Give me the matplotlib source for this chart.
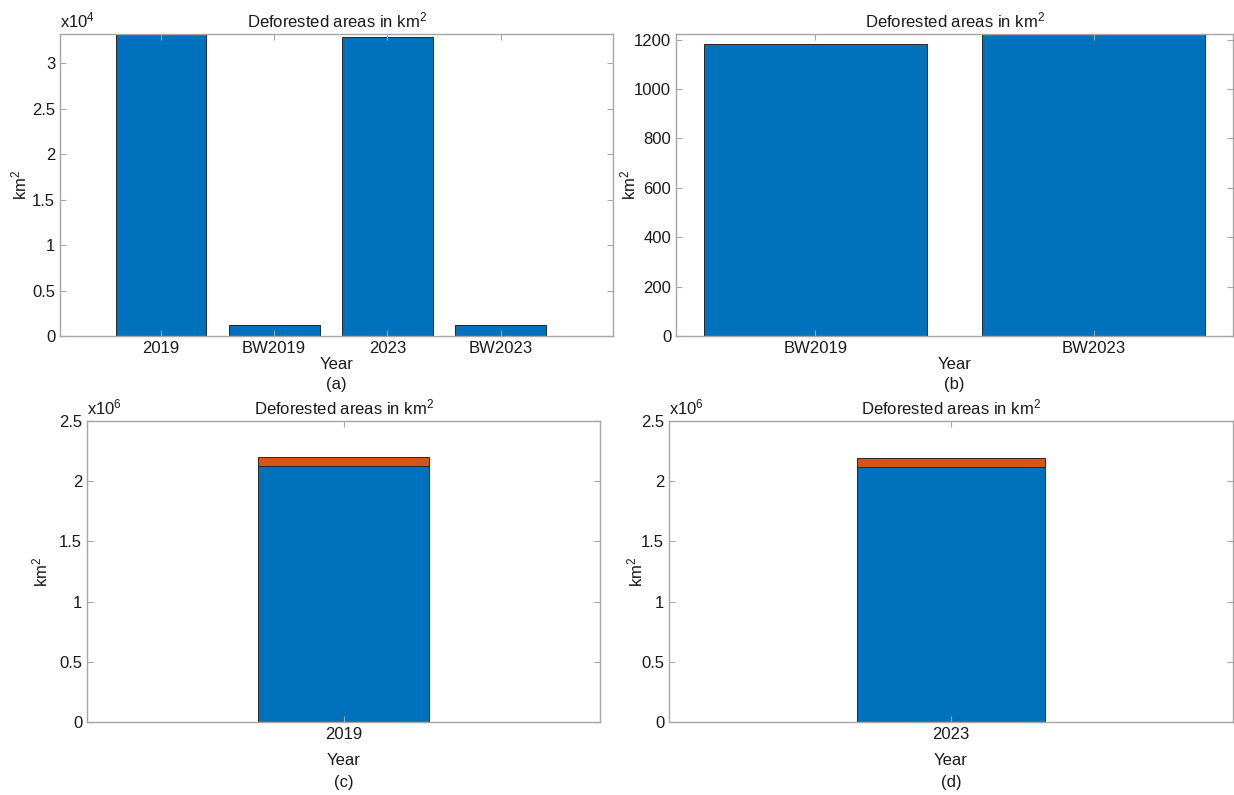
import numpy as np
import matplotlib
matplotlib.use("Agg")
from matplotlib import pyplot as plt
from matplotlib import ticker

plt.rcParams["font.family"] = ["Liberation Sans", "DejaVu Sans"]
plt.rcParams["font.size"] = 12
plt.rcParams["mathtext.fontset"] = "custom"
plt.rcParams["mathtext.rm"] = "Liberation Sans"
plt.rcParams["mathtext.it"] = "Liberation Sans"

# Deforested areas (km^2)
cats_a = ["2019", "BW2019", "2023", "BW2023"]
vals_a = [3.32e4, 1183, 3.29e4, 1223]

cats_b = ["BW2019", "BW2023"]
vals_b = [1183, 1223]

# panels (c) and (d): stacked, total area and deforested part on top
year_c = ["2019"]
base_c = [2.13e6]
top_c = [0.07e6]

year_d = ["2023"]
base_d = [2.115e6]
top_d = [0.078e6]

BLUE = "#0072BD"
ORANGE = "#D95319"
AXCOL = "#a6a6a6"
TXT = "#1a1a1a"
FS = 12

W, H = 1234, 795
fig = plt.figure(figsize=(W / 100, H / 100), dpi=100)


def add_axes(left, top, right, bottom):
    # pixel box -> figure fraction
    return fig.add_axes([left / W, 1 - bottom / H, (right - left) / W, (bottom - top) / H])


def style(ax, ylpad):
    for s in ax.spines.values():
        s.set_color(AXCOL)
        s.set_linewidth(1.0)
    ax.tick_params(direction="in", length=4, width=0.8, color=AXCOL,
                   labelcolor=TXT, top=True, right=True, labelsize=FS)
    ax.set_title("Deforested areas in km$^2$", fontsize=FS, color=TXT, pad=5)
    ax.set_ylabel("km$^2$", color=TXT, labelpad=ylpad)


def sci(ax, exp):
    f = 10.0 ** exp
    ax.yaxis.set_major_formatter(ticker.FuncFormatter(lambda v, p: f"{v / f:g}"))
    ax.text(0, 1.012, "x10$^{%d}$" % exp, transform=ax.transAxes,
            ha="left", va="bottom", color=TXT, fontsize=FS)


def bar_edges():
    return dict(edgecolor="#262626", linewidth=0.7)


# (a)
ax = add_axes(60, 34, 613, 336)
x = np.arange(1, len(cats_a) + 1)
ax.bar(x, vals_a, width=0.8, color=BLUE, **bar_edges())
ax.set_xticks(x, cats_a)
ax.set_xlim(0.11, 4.99)
ax.set_ylim(0, max(vals_a))
ax.set_yticks(np.arange(0, 3.01e4, 5e3))
sci(ax, 4)
style(ax, 2)
ax.set_xlabel("Year", color=TXT, labelpad=1)

# (b)
ax = add_axes(676, 34, 1233, 336)
x = np.arange(1, len(cats_b) + 1)
ax.bar(x, vals_b, width=0.8, color=BLUE, **bar_edges())
ax.set_xticks(x, cats_b)
ax.set_xlim(0.5, 2.5)
ax.set_ylim(0, max(vals_b))
ax.set_yticks(np.arange(0, 1201, 200))
style(ax, -3)
ax.set_xlabel("Year", color=TXT, labelpad=1)

# (c) and (d)
for box, yr, base, top, ylpad in [((87, 421, 600, 722), year_c, base_c, top_c, 6),
                                  ((669, 421, 1233, 722), year_d, base_d, top_d, -3)]:
    ax = add_axes(*box)
    x = np.arange(1, len(yr) + 1)
    ax.bar(x, base, width=0.67, color=BLUE, **bar_edges())
    ax.bar(x, top, bottom=base, width=0.67, color=ORANGE, **bar_edges())
    ax.set_xticks(x, yr)
    ax.set_xlim(0, 2)
    ax.set_ylim(0, 2.5e6)
    ax.set_yticks(np.arange(0, 2.51e6, 5e5))
    sci(ax, 6)
    style(ax, ylpad)
    ax.set_xlabel("Year", color=TXT, labelpad=8)

for lab, px, py in [("(a)", 336, 385), ("(b)", 954, 385),
                    ("(c)", 344, 783), ("(d)", 951, 783)]:
    fig.text(px / W, 1 - py / H, lab, ha="center", va="center", color=TXT, fontsize=FS)

fig.savefig("out.png", dpi=100, facecolor="white")
